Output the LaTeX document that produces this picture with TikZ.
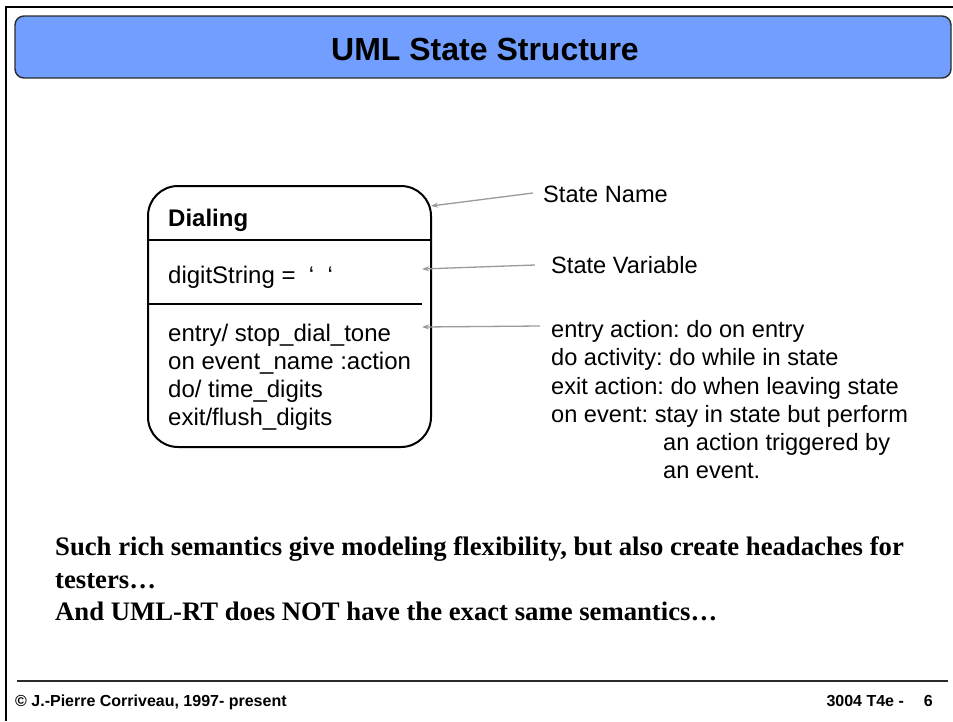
\documentclass[tikz,border=0pt]{standalone}
\usepackage{fontspec}
\setmainfont{Liberation Serif}
\setsansfont{Liberation Sans}
\usetikzlibrary{arrows.meta}
\frenchspacing
\definecolor{titleblue}{HTML}{729FFF}
\definecolor{titleedge}{HTML}{2B2B2B}
\definecolor{pointer}{HTML}{9A9A9A}
\tikzset{
  body/.style={inner sep=0pt, anchor=base west, font=\sffamily\fontsize{24}{28}\selectfont},
  note/.style={inner sep=0pt, anchor=base west, font=\sffamily\fontsize{23.6}{28}\selectfont},
  pointto/.style={draw=pointer, line width=1.3pt, -{Stealth[length=7pt,width=5pt]}},
  closing/.style={inner sep=0pt, anchor=base west, font=\rmfamily\bfseries\fontsize{26.7}{30}\selectfont},
  foot/.style={inner sep=0pt, font=\sffamily\bfseries\fontsize{16}{18}\selectfont},
}
\begin{document}
\begin{tikzpicture}[x=1pt,y=-1pt]
\useasboundingbox (0,0) rectangle (953,721);
% slide frame (top and left edges)
\draw[line width=2.5pt] (6,721) -- (6,7) -- (953,7);
% title bar
\node[draw=titleedge, line width=1.4pt, fill=titleblue, rounded corners=9pt,
      minimum width=936pt, minimum height=62pt, inner sep=0pt] (title) at (483,47) {};
\node[inner sep=0pt, anchor=base, font=\sffamily\bfseries\fontsize{32}{36}\selectfont] (titletext) at (485,60) {UML State Structure};

% state box
\draw[line width=2pt, rounded corners=30pt] (148,186) rectangle (431,447);
\coordinate (div1l) at (148,240); \coordinate (div1r) at (431,240);
\coordinate (div2l) at (148,304); \coordinate (div2r) at (422,304);
\draw[line width=1.1pt] (div1l) -- (div1r);
\draw[line width=1.1pt] (div2l) -- (div2r);
\node[body, font=\sffamily\bfseries\fontsize{24}{28}\selectfont] (name) at (168,226) {Dialing};
\node[body] (var) at (168,283) {digitString =~~‘~~‘};
\node[body] (a1) at (168,341) {entry/ stop\_dial\_tone};
\node[body] (a2) at (168,369) {on event\_name :action};
\node[body] (a3) at (168,397) {do/ time\_digits};
\node[body] (a4) at (168,425) {exit/flush\_digits};

% explanations
\node[note] (n1) at (543,202) {State Name};
\node[note] (n2) at (551,273) {State Variable};
\node[note] (n3) at (551,337) {entry action: do on entry};
\node[note] (n4) at (551,365) {do activity: do while in state};
\node[note] (n5) at (551,394) {exit action: do when leaving state};
\node[note] (n6) at (551,422) {on event: stay in state but perform};
\node[note] (n7) at (663,450) {an action triggered by};
\node[note] (n8) at (663,478) {an event.};

% pointers
\coordinate (p1s) at (533,193); \coordinate (p1e) at (431,206);
\coordinate (p2s) at (535,265); \coordinate (p2e) at (422,269);
\coordinate (p3s) at (540,326); \coordinate (p3e) at (422,327);
\draw[pointto] (p1s) -- (p1e);
\draw[pointto] (p2s) -- (p2e);
\draw[pointto] (p3s) -- (p3e);

% closing remarks
\node[closing] (c1) at (55,555) {Such rich semantics give modeling flexibility, but also create headaches for};
\node[closing] (c2) at (55,588) {testers…};
\node[closing] (c3) at (55,620) {And UML-RT does NOT have the exact same semantics…};

% footer
\coordinate (fl) at (17,681); \coordinate (fr) at (948,681);
\draw[line width=1.2pt, draw=titleedge] (fl) -- (fr);
\node[foot, anchor=base west] (copy) at (15,706) {© J.-Pierre Corriveau, 1997- present};
\node[foot, anchor=base east] (page) at (933,706) {3004 T4e -\hspace{20pt}6};
\end{tikzpicture}
\end{document}
